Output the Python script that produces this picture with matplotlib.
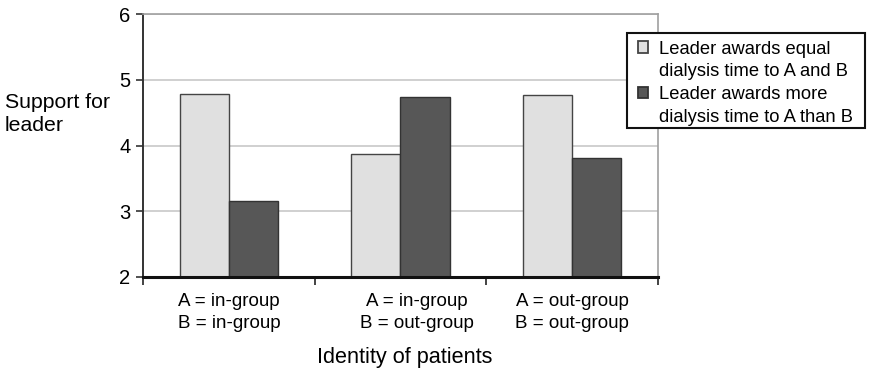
import matplotlib
matplotlib.use("Agg")
import matplotlib.pyplot as plt
from matplotlib.patches import Rectangle
from matplotlib.transforms import ScaledTranslation
import numpy as np

plt.rcParams['font.family'] = ['Liberation Sans', 'DejaVu Sans']

categories = ["A = in-group\nB = in-group", "A = in-group\nB = out-group", "A = out-group\nB = out-group"]
series_names = ["Leader awards equal\ndialysis time to A and B",
                "Leader awards more\ndialysis time to A than B"]
equal_vals = [4.78, 3.87, 4.77]
more_vals = [3.16, 4.74, 3.81]
yticks = [2, 3, 4, 5, 6]
colors = ["#e0e0e0", "#575757"]
edges = ["#444444", "#333333"]
label_shift_px = [0, 16, 0]

fig = plt.figure(figsize=(8.7, 3.72), dpi=100)
ax = fig.add_axes([143/870, 1-277/372, (658-143)/870, (277-14)/372])

x = np.arange(len(categories))
w = 0.286
b1 = ax.bar(x - w/2, np.array(equal_vals) - 2, w, bottom=2, color=colors[0],
            edgecolor=edges[0], linewidth=1.0, zorder=3)
b2 = ax.bar(x + w/2, np.array(more_vals) - 2, w, bottom=2, color=colors[1],
            edgecolor=edges[1], linewidth=1.0, zorder=3)

ax.set_xlim(-0.5, len(categories) - 0.5)
ax.set_ylim(2, 6)
ax.set_yticks(yticks)
ax.set_yticklabels([str(v) for v in yticks], fontsize=14.5)
ax.set_xticks([])
ax.set_xticks(np.arange(len(categories) + 1) - 0.5, minor=True)
ax.tick_params(axis='x', which='minor', length=6, width=1.2, color="#222222",
               direction='out', labelbottom=False)
ax.tick_params(axis='y', length=5, width=1.2, color="#333333", direction='out', pad=4)

for xi, lab, sh in zip(x, categories, label_shift_px):
    tr = ax.get_xaxis_transform() + ScaledTranslation(sh/100, -16/100, fig.dpi_scale_trans)
    ax.text(xi, 0, lab, transform=tr, ha='center', va='top', fontsize=13.5,
            linespacing=1.35, multialignment='center')

ax.grid(axis='y', color="#c8c8c8", linewidth=1.2, zorder=0)
ax.set_axisbelow(True)
for s in ['top', 'right']:
    ax.spines[s].set_color("#a0a0a0")
    ax.spines[s].set_linewidth(1.2)
ax.spines['left'].set_color("#333333")
ax.spines['left'].set_linewidth(1.4)
ax.spines['bottom'].set_color("#111111")
ax.spines['bottom'].set_linewidth(2.2)
ax.spines['bottom'].set_zorder(4)

fig.text(5/870, 1-114/372, "Support for\nleader", fontsize=15.3, ha='left', va='center',
         linespacing=1.3)
fig.text(405/870, 1-358/372, "Identity of patients", fontsize=15.6, ha='center', va='center')

# legend frame
frame = Rectangle((627/870, 1-128/372), (865-627)/870, (128-33)/372,
                  transform=fig.transFigure, facecolor='white', edgecolor='#111111',
                  linewidth=1.5, zorder=5)
fig.add_artist(frame)

handles, labels = [], []
for name, c, e in zip(series_names, colors, edges):
    lines = name.split("\n")
    handles.append(Rectangle((0, 0), 1, 1, facecolor=c, edgecolor=e, linewidth=1.3))
    labels.append(lines[0])
    for extra in lines[1:]:
        handles.append(Rectangle((0, 0), 1, 1, facecolor='none', edgecolor='none'))
        labels.append(extra)

leg = fig.legend(handles=handles, labels=labels, loc='upper left',
                 bbox_to_anchor=(638/870, 1-40.5/372), fontsize=13.2, frameon=False,
                 handlelength=0.55, handleheight=0.55, handletextpad=0.6,
                 borderpad=0, labelspacing=0.32, borderaxespad=0)
leg.set_zorder(6)

fig.savefig("out.png", dpi=100)
